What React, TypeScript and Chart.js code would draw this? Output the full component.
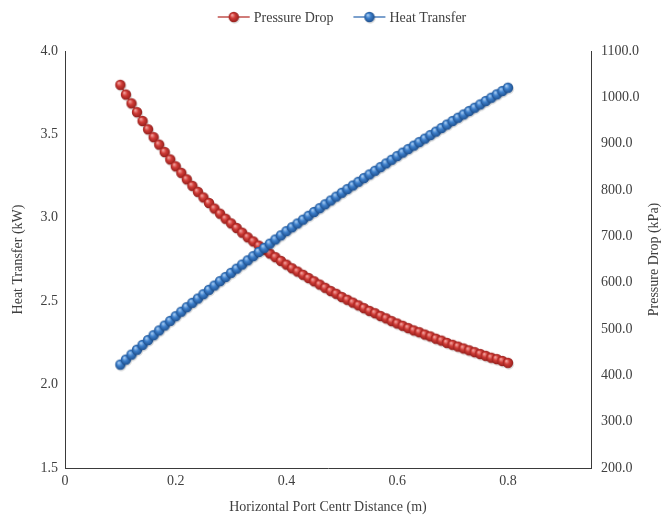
import React, { useEffect, useRef } from 'react';
import { Chart, registerables } from 'chart.js';

Chart.register(...registerables);

// ---- Data ----
const distance = [
  0.10, 0.11, 0.12, 0.13, 0.14, 0.15, 0.16, 0.17, 0.18, 0.19,
  0.20, 0.21, 0.22, 0.23, 0.24, 0.25, 0.26, 0.27, 0.28, 0.29,
  0.30, 0.31, 0.32, 0.33, 0.34, 0.35, 0.36, 0.37, 0.38, 0.39,
  0.40, 0.41, 0.42, 0.43, 0.44, 0.45, 0.46, 0.47, 0.48, 0.49,
  0.50, 0.51, 0.52, 0.53, 0.54, 0.55, 0.56, 0.57, 0.58, 0.59,
  0.60, 0.61, 0.62, 0.63, 0.64, 0.65, 0.66, 0.67, 0.68, 0.69,
  0.70, 0.71, 0.72, 0.73, 0.74, 0.75, 0.76, 0.77, 0.78, 0.79,
  0.80,
];

const pressureDrop = [
  1027, 1006, 987, 968, 949, 931, 914, 898, 882, 866,
  851, 837, 823, 809, 796, 784, 772, 760, 749, 738,
  728, 718, 708, 698, 689, 680, 671, 663, 655, 647,
  639, 631, 624, 617, 610, 603, 596, 589, 582, 576,
  569, 563, 557, 551, 545, 539, 534, 528, 523, 517,
  512, 507, 502, 497, 493, 488, 484, 479, 475, 470,
  466, 462, 458, 454, 450, 446, 442, 438, 435, 431,
  427,
];

const heatTransfer = [
  2.120, 2.150, 2.180, 2.209, 2.238, 2.267, 2.296, 2.325, 2.354, 2.382,
  2.410, 2.437, 2.464, 2.490, 2.516, 2.542, 2.568, 2.594, 2.620, 2.645,
  2.670, 2.695, 2.720, 2.745, 2.770, 2.795, 2.820, 2.845, 2.870, 2.895,
  2.920, 2.943, 2.966, 2.989, 3.012, 3.035, 3.058, 3.081, 3.104, 3.127,
  3.150, 3.172, 3.194, 3.216, 3.238, 3.260, 3.282, 3.304, 3.326, 3.348,
  3.370, 3.391, 3.412, 3.433, 3.454, 3.475, 3.496, 3.517, 3.538, 3.559,
  3.580, 3.600, 3.620, 3.640, 3.660, 3.680, 3.700, 3.720, 3.740, 3.760,
  3.780,
];

const seriesNames = ['Pressure Drop', 'Heat Transfer'];
const xTitle = 'Horizontal Port Centr Distance (m)';
const yLeftTitle = 'Heat Transfer (kW)';
const yRightTitle = 'Pressure Drop (kPa)';

const FONT = '"Liberation Serif", "Times New Roman", serif';
const TEXT = '#404040';
const AXIS = '#3a3a3a';
const RED = '#c0504d';
const BLUE = '#4f81bd';

function makeSphere(light: string, base: string, dark: string, r: number): HTMLCanvasElement {
  const size = Math.ceil(r * 2 + 5);
  const c = document.createElement('canvas');
  c.width = size;
  c.height = size;
  const ctx = c.getContext('2d')!;
  const cx = size / 2;
  const cy = size / 2;
  ctx.fillStyle = 'rgba(0,0,0,0.14)';
  ctx.beginPath();
  ctx.arc(cx + 0.8, cy + 1.3, r + 0.2, 0, Math.PI * 2);
  ctx.fill();
  const g = ctx.createRadialGradient(cx - r * 0.35, cy - r * 0.4, r * 0.05, cx, cy, r);
  g.addColorStop(0, light);
  g.addColorStop(0.45, base);
  g.addColorStop(1, dark);
  ctx.fillStyle = g;
  ctx.beginPath();
  ctx.arc(cx, cy, r, 0, Math.PI * 2);
  ctx.fill();
  return c;
}

export default function App() {
  const ref = useRef<HTMLCanvasElement>(null);

  useEffect(() => {
    const canvas = ref.current;
    if (!canvas) return;
    const redSphere = makeSphere('#f4a9a6', '#d03c37', '#951f1c', 5.2);
    const blueSphere = makeSphere('#acd0f4', '#3d7fcb', '#1f518f', 5.2);

    const overlay = {
      id: 'customText',
      afterDraw(chart: any) {
        const ctx = chart.ctx as CanvasRenderingContext2D;
        const area = chart.chartArea;
        ctx.save();
        ctx.font = `14px ${FONT}`;
        ctx.fillStyle = TEXT;
        // right axis title (reads bottom to top)
        ctx.save();
        ctx.translate(654, (area.top + area.bottom) / 2);
        ctx.rotate(-Math.PI / 2);
        ctx.textAlign = 'center';
        ctx.textBaseline = 'middle';
        ctx.fillText(yRightTitle, 0, 0);
        ctx.restore();

        // legend
        const lineW = 32;
        const gapText = 4;
        const gapItems = 20;
        const w1 = ctx.measureText(seriesNames[0]).width;
        const w2 = ctx.measureText(seriesNames[1]).width;
        const total = lineW + gapText + w1 + gapItems + lineW + gapText + w2;
        let x = 342 - total / 2;
        const y = 17;
        const items = [
          { name: seriesNames[0], color: RED, img: redSphere, w: w1 },
          { name: seriesNames[1], color: BLUE, img: blueSphere, w: w2 },
        ];
        ctx.textAlign = 'left';
        ctx.textBaseline = 'middle';
        for (const it of items) {
          ctx.strokeStyle = it.color;
          ctx.lineWidth = 1.5;
          ctx.beginPath();
          ctx.moveTo(x, y);
          ctx.lineTo(x + lineW, y);
          ctx.stroke();
          ctx.drawImage(it.img, x + lineW / 2 - it.img.width / 2, y - it.img.height / 2);
          ctx.fillStyle = TEXT;
          ctx.fillText(it.name, x + lineW + gapText, y + 1);
          x += lineW + gapText + it.w + gapItems;
        }
        ctx.restore();
      },
    };

    const chart = new Chart(canvas, {
      type: 'scatter',
      data: {
        datasets: [
          {
            label: seriesNames[0],
            data: distance.map((x, i) => ({ x, y: pressureDrop[i] })),
            yAxisID: 'y1',
            showLine: true,
            borderColor: RED,
            borderWidth: 1.5,
            pointStyle: redSphere as any,
            pointRadius: 5,
            order: 1,
          },
          {
            label: seriesNames[1],
            data: distance.map((x, i) => ({ x, y: heatTransfer[i] })),
            yAxisID: 'y',
            showLine: true,
            borderColor: BLUE,
            borderWidth: 1.5,
            pointStyle: blueSphere as any,
            pointRadius: 5,
            order: 0,
          },
        ],
      },
      options: {
        responsive: false,
        animation: false,
        devicePixelRatio: 1,
        layout: { padding: { top: 51, left: 0, right: 0, bottom: 0 } },
        plugins: {
          legend: { display: false },
          tooltip: { enabled: false },
        },
        scales: {
          x: {
            type: 'linear',
            min: 0,
            max: 0.95,
            grid: { display: false, drawTicks: false },
            border: { display: true, color: AXIS, width: 1 },
            ticks: {
              stepSize: 0.2,
              padding: 5,
              maxRotation: 0,
              autoSkip: false,
              color: TEXT,
              font: { family: FONT, size: 14 },
              callback: (v: any) => {
                const n = Number(v);
                const k = n / 0.2;
                if (Math.abs(k - Math.round(k)) > 1e-6 || n > 0.81) return '';
                return n === 0 ? '0' : n.toFixed(1);
              },
            },
            title: {
              display: true,
              text: xTitle,
              color: TEXT,
              font: { family: FONT, size: 14 },
              padding: { top: 0, bottom: 2 },
            },
            afterFit: (s: any) => {
              s.height = 50;
            },
          },
          y: {
            type: 'linear',
            position: 'left',
            min: 1.5,
            max: 4.0,
            grid: { display: false, drawTicks: false },
            border: { display: true, color: AXIS, width: 1 },
            ticks: {
              stepSize: 0.5,
              padding: 7,
              color: TEXT,
              font: { family: FONT, size: 14 },
              callback: (v: any) => Number(v).toFixed(1),
            },
            title: {
              display: true,
              text: yLeftTitle,
              color: TEXT,
              font: { family: FONT, size: 14 },
              padding: { top: 10, bottom: 0 },
            },
            afterFit: (s: any) => {
              s.width = 65;
            },
          },
          y1: {
            type: 'linear',
            position: 'right',
            min: 200,
            max: 1100,
            grid: { display: false, drawTicks: false },
            border: { display: true, color: AXIS, width: 1 },
            ticks: {
              stepSize: 100,
              padding: 10,
              color: TEXT,
              font: { family: FONT, size: 14 },
              callback: (v: any) => Number(v).toFixed(1),
            },
            title: { display: false },
            afterFit: (s: any) => {
              s.width = 71;
            },
          },
        },
      },
      plugins: [overlay],
    } as any);

    return () => chart.destroy();
  }, []);

  return (
    <div style={{ position: 'fixed', left: 0, top: 0, width: 662, height: 518, background: '#ffffff' }}>
      <canvas ref={ref} width={662} height={518} style={{ display: 'block', width: 662, height: 518 }} />
    </div>
  );
}
